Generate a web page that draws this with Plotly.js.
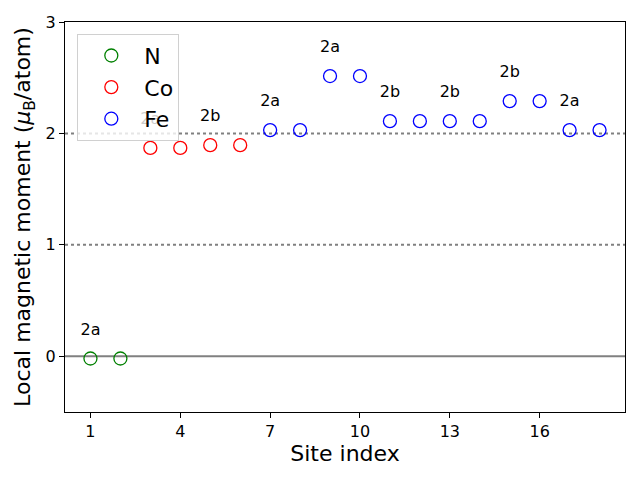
<!DOCTYPE html>
<html><head><meta charset="utf-8">
<script src="https://cdn.plot.ly/plotly-3.0.1.min.js"></script>
<style>body{margin:0;}#c{width:640px;height:480px;}</style>
</head><body><div id="c"></div>
<script>
const nSites = [1, 2];
const nMoments = [-0.02, -0.02];
const coSites = [3, 4, 5, 6];
const coMoments = [1.87, 1.87, 1.895, 1.895];
const feSites = [7, 8, 9, 10, 11, 12, 13, 14, 15, 16, 17, 18];
const feMoments = [2.03, 2.03, 2.515, 2.515, 2.11, 2.11, 2.11, 2.11, 2.29, 2.29, 2.03, 2.03];
const labelSites = [1, 3, 5, 7, 9, 11, 13, 15, 17];
const labelTexts = ['2a', '2a', '2b', '2a', '2a', '2b', '2b', '2b', '2a'];
const allSites = nSites.concat(coSites, feSites);
const allMoments = nMoments.concat(coMoments, feMoments);
const xTicks = [1, 4, 7, 10, 13, 16];

const font = 'DejaVu Sans, sans-serif';
function series(x, y, name, color) {
  return {x: x, y: y, name: name, type: 'scatter', mode: 'markers',
    marker: {symbol: 'circle-open', size: 13, color: color, line: {width: 1.3, color: color}}};
}
const labelTrace = {
  x: labelSites,
  y: labelSites.map(s => allMoments[allSites.indexOf(s)] + 0.25),
  text: labelTexts, mode: 'text', type: 'scatter', showlegend: false,
  textfont: {family: font, size: 16, color: 'black'}, hoverinfo: 'skip'
};
const data = [labelTrace,
  series(nSites, nMoments, 'N', 'green'),
  series(coSites, coMoments, 'Co', 'red'),
  series(feSites, feMoments, 'Fe', 'blue')];

const layout = {
  width: 640, height: 480,
  margin: {l: 65, r: 15, t: 22, b: 68},
  paper_bgcolor: 'white', plot_bgcolor: 'white',
  font: {family: font, color: 'black'},
  xaxis: {range: [0.15, 18.85], tickvals: xTicks, ticktext: xTicks.map(String),
    showgrid: false, zeroline: false, showline: true, mirror: true, linecolor: 'black', linewidth: 1.1,
    ticks: 'outside', ticklen: 5, tickcolor: 'black', tickfont: {size: 16, family: font},
    title: {text: 'Site index', font: {size: 22, family: font}, standoff: 5}},
  yaxis: {range: [-0.5, 3], tickvals: [0, 1, 2, 3],
    showgrid: false, zeroline: false, showline: true, mirror: true, linecolor: 'black', linewidth: 1.1,
    ticks: 'outside', ticklen: 5, tickcolor: 'black', tickfont: {size: 16, family: font},
    title: {text: 'Local magnetic moment (<i>μ</i><sub>B</sub>/atom)', font: {size: 22, family: font}, standoff: 8}},
  shapes: [
    {type: 'line', xref: 'paper', x0: 0, x1: 1, yref: 'y', y0: 0, y1: 0, line: {color: 'gray', width: 2}, layer: 'below'},
    {type: 'line', xref: 'paper', x0: 0, x1: 1, yref: 'y', y0: 1, y1: 1, line: {color: 'gray', width: 2, dash: 'dot'}, layer: 'below'},
    {type: 'line', xref: 'paper', x0: 0, x1: 1, yref: 'y', y0: 2, y1: 2, line: {color: 'gray', width: 2, dash: 'dot'}, layer: 'below'}
  ],
  showlegend: true,
  legend: {x: 0.022, y: 0.97, xanchor: 'left', yanchor: 'top',
    bgcolor: 'rgba(255,255,255,0.8)', bordercolor: '#d0d0d0', borderwidth: 1,
    font: {size: 22, family: font}, itemwidth: 56, tracegroupgap: 8}
};
Plotly.newPlot('c', data, layout, {displayModeBar: false, staticPlot: true});
</script></body></html>
